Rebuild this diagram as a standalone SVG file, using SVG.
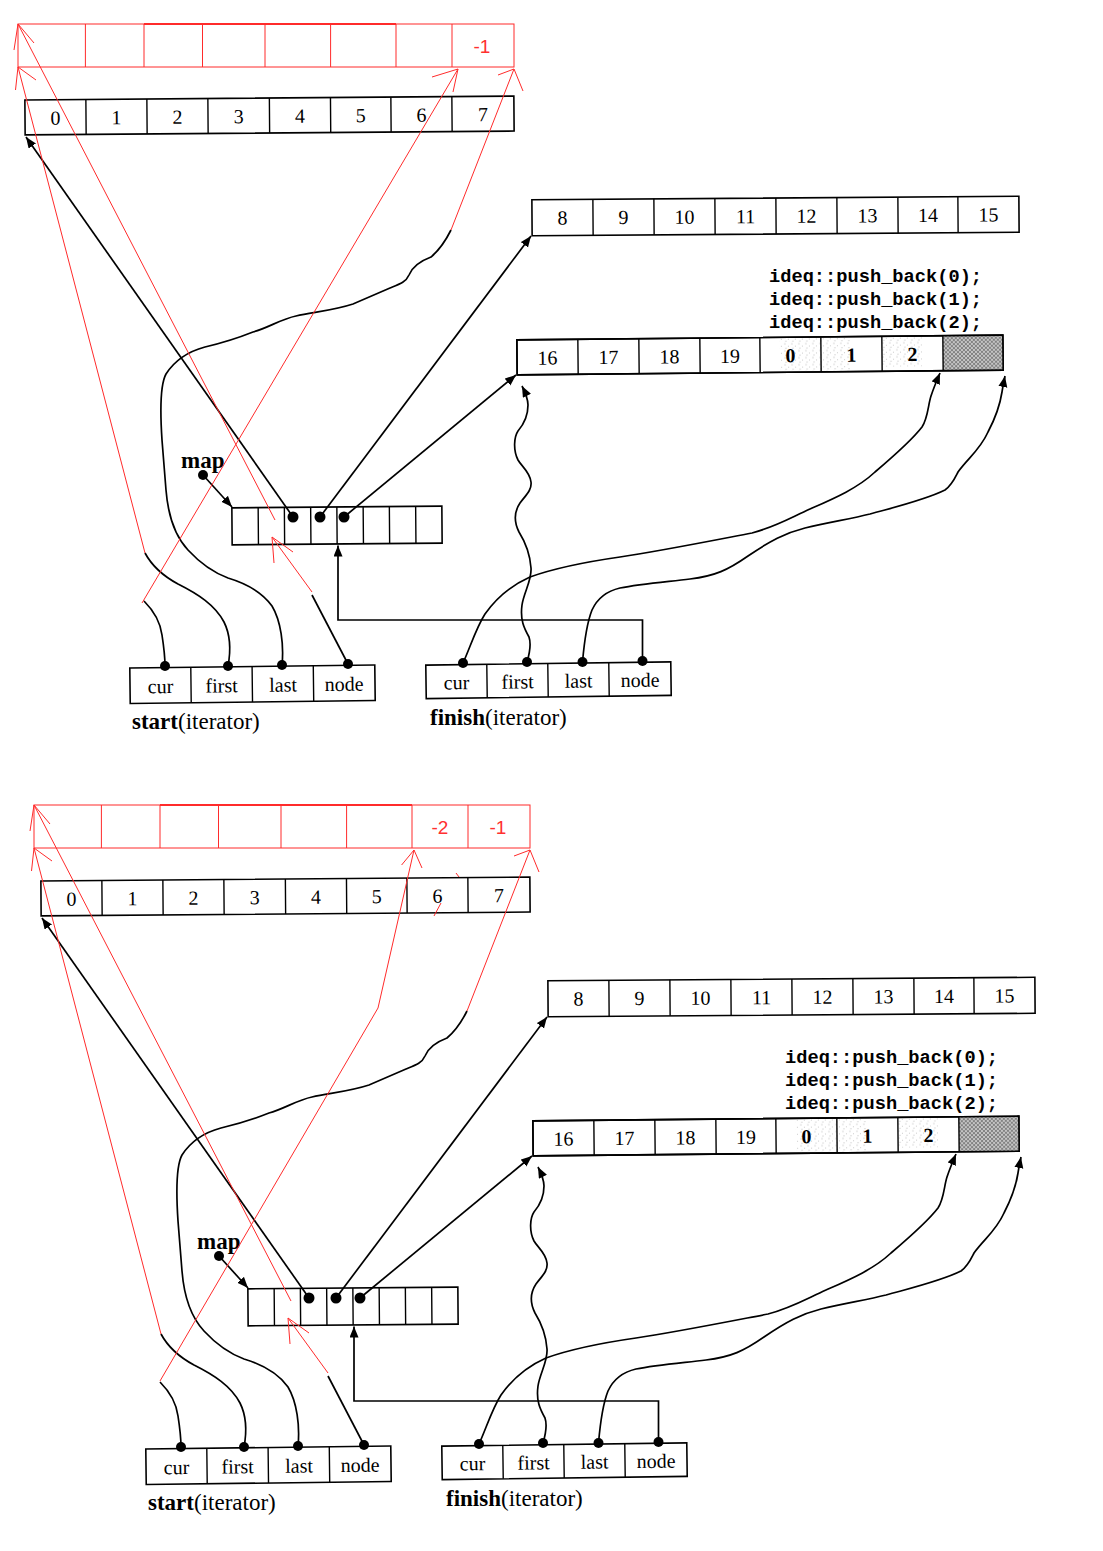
<svg xmlns="http://www.w3.org/2000/svg" width="1103" height="1551" viewBox="0 0 1103 1551">
<style>
.frame{fill:#fff;stroke:#000;stroke-width:1.6}
.div{fill:none;stroke:#000;stroke-width:1.4}
.num{font-family:"Liberation Serif","Times New Roman",serif;font-size:20px;text-anchor:middle;fill:#000}
.numb{font-family:"Liberation Serif","Times New Roman",serif;font-size:20px;text-anchor:middle;fill:#000;font-weight:bold}
.cap{font-family:"Liberation Serif","Times New Roman",serif;font-size:23px;fill:#000}
.code{font-family:"Liberation Mono","DejaVu Sans Mono",monospace;font-size:18.7px;font-weight:bold;fill:#000}
.wire{fill:none;stroke:#000;stroke-width:1.7}
.arr{marker-end:url(#ah)}
.dot{fill:#000}
.red{fill:none;stroke:#ff2b2b;stroke-width:1}
.redthick{fill:none;stroke:#ff2b2b;stroke-width:2}
.redt{font-family:"Liberation Sans",Arial,sans-serif;font-size:19px;fill:#ff3030;text-anchor:middle}
</style>
<defs>
<marker id="ah" markerWidth="12" markerHeight="10" refX="11" refY="4.5" orient="auto" markerUnits="userSpaceOnUse"><path d="M0,0 L11,4.5 L0,9 z" fill="#000"/></marker>
<pattern id="hatch" width="4" height="4" patternUnits="userSpaceOnUse"><rect width="4" height="4" fill="#c4c4c4"/><path d="M0,4 L4,0 M0,0 L4,4" stroke="#666" stroke-width="0.7"/></pattern>
<pattern id="stip" width="7" height="7" patternUnits="userSpaceOnUse"><circle cx="1" cy="1" r="0.6" fill="#aaa"/><circle cx="4.5" cy="3.5" r="0.5" fill="#bbb"/><circle cx="2" cy="5.5" r="0.5" fill="#aaa"/></pattern>
</defs>
<rect width="1103" height="1551" fill="#fff"/>

<!-- ================= DIAGRAM A ================= -->
<g id="diagramA">
<g id="a-block0" transform="rotate(-0.45 269.5 115.5)">
<rect class="frame" x="25" y="98" width="489" height="35"/>
<path class="div" d="M86 98V133M147 98V133M208 98V133M269.5 98V133M330.6 98V133M391 98V133M452 98V133"/>
<text class="num" x="55.5" y="123">0</text><text class="num" x="116.5" y="123">1</text><text class="num" x="177.5" y="123">2</text><text class="num" x="238.8" y="123">3</text><text class="num" x="300" y="123">4</text><text class="num" x="360.8" y="123">5</text><text class="num" x="421.5" y="123">6</text><text class="num" x="483" y="123">7</text>
</g>
<g id="a-block8" transform="rotate(-0.4 775.5 216)">
<rect class="frame" x="532" y="198" width="487" height="36"/>
<path class="div" d="M593 198V234M654 198V234M715 198V234M776 198V234M837 198V234M898 198V234M958 198V234"/>
<text class="num" x="562.5" y="223">8</text><text class="num" x="623.5" y="223">9</text><text class="num" x="684.5" y="223">10</text><text class="num" x="745.5" y="223">11</text><text class="num" x="806.5" y="223">12</text><text class="num" x="867.5" y="223">13</text><text class="num" x="928" y="223">14</text><text class="num" x="988.5" y="223">15</text>
</g>
<g id="a-code">
<text class="code" x="769" y="282">ideq::push_back(0);</text>
<text class="code" x="769" y="305">ideq::push_back(1);</text>
<text class="code" x="769" y="328">ideq::push_back(2);</text>
</g>
<g id="a-block16" transform="rotate(-0.55 760 355)">
<rect class="frame" x="517" y="337.5" width="486" height="35"/>
<rect x="780" y="338" width="70" height="34" fill="url(#stip)"/>
<rect x="882" y="338" width="40" height="30" fill="url(#stip)"/>
<rect x="943" y="337.5" width="60" height="35" fill="url(#hatch)"/>
<rect x="517" y="337.5" width="486" height="35" fill="none" stroke="#000" stroke-width="1.6"/>
<path class="div" d="M578 337.5V372.5M639 337.5V372.5M700 337.5V372.5M760 337.5V372.5M821 337.5V372.5M882 337.5V372.5M943 337.5V372.5"/>
<text class="num" x="547.5" y="362.5">16</text><text class="num" x="608.5" y="362.5">17</text><text class="num" x="669.5" y="362.5">18</text><text class="num" x="730" y="362.5">19</text><text class="numb" x="790.5" y="362.5">0</text><text class="numb" x="851.5" y="362.5">1</text><text class="numb" x="912.5" y="362.5">2</text>
</g>
<g id="a-map">
<text class="cap" x="181" y="468" font-weight="bold" font-size="22">map</text>
<g transform="rotate(-0.46 337 525.5)">
<rect class="frame" x="232" y="507" width="210" height="37"/>
<path class="div" d="M258.3 507V544M284.5 507V544M310.8 507V544M337 507V544M363.3 507V544M389.5 507V544M415.8 507V544"/>
</g>
</g>
<g id="a-start">
<g transform="rotate(-0.7 252.5 684)">
<rect class="frame" x="130" y="666.5" width="245" height="35.5"/>
<path class="div" d="M191 666.5V702M252.3 666.5V702M313.5 666.5V702"/>
<text class="num" x="160.5" y="692">cur</text><text class="num" x="221.6" y="692">first</text><text class="num" x="283" y="692">last</text><text class="num" x="344" y="692">node</text>
</g>
<text class="cap" x="132" y="729"><tspan font-weight="bold">start</tspan>(iterator)</text>
</g>
<g id="a-finish">
<g transform="rotate(-0.77 548.5 680)">
<rect class="frame" x="426" y="663.5" width="245" height="33.5"/>
<path class="div" d="M487 663.5V697M548 663.5V697M609 663.5V697"/>
<text class="num" x="456.5" y="688">cur</text><text class="num" x="517.5" y="688">first</text><text class="num" x="578.5" y="688">last</text><text class="num" x="640" y="688">node</text>
</g>
<text class="cap" x="430" y="725"><tspan font-weight="bold">finish</tspan>(iterator)</text>
</g>

<g id="a-connectors">
<circle class="dot" cx="203" cy="475" r="5"/>
<path class="wire arr" d="M203 475L232 507"/>
<circle class="dot" cx="293" cy="517" r="5.5"/><circle class="dot" cx="320" cy="517" r="5.5"/><circle class="dot" cx="344" cy="517" r="5.5"/>
<path class="wire arr" d="M293 517L26 137"/>
<path class="wire arr" d="M320 517L531 236"/>
<path class="wire arr" d="M344 517L516 375"/>
<circle class="dot" cx="165" cy="666" r="5"/><circle class="dot" cx="228" cy="666" r="5"/><circle class="dot" cx="282" cy="665" r="5"/><circle class="dot" cx="348" cy="664" r="5"/>
<path class="wire" d="M144 601C152 609 160 620 162 635C164 648 165 658 165 666"/>
<path class="wire" d="M145 553C152 566 165 577 178 584C198 594 215 605 224 622C231 636 231 650 228 666"/>
<path class="wire" d="M451 230C445 242 437 252 431 257C423 260 413 265 409 275C406 282 400 284 390 288L353 304C335 310 315 312 296 316C281 319 268 328 253 332C238 338 222 343 205 347C190 351 175 360 166 374C160 385 160 410 162 440L166 490C168 515 174 535 188 550C200 563 212 572 228 578C248 584 262 592 272 606C281 621 284 645 282 665"/>
<path class="wire" d="M348 664L312 595"/>
<circle class="dot" cx="463" cy="663" r="5"/><circle class="dot" cx="527" cy="662" r="5"/><circle class="dot" cx="582.5" cy="662" r="5"/><circle class="dot" cx="642.5" cy="661" r="5"/>
<path class="wire arr" d="M642.5 661V620H338V545.5"/>
<path class="wire arr" d="M527 662C530 652 531 643 529 637C524 628 520 620 522 605C524 592 532 580 531 568C530 553 524 540 519 532C514 522 514 512 520 503C526 495 532 490 531 482C530 472 522 467 518 460C513 450 514 437 518 431C524 424 528 415 528 405C528 398 525 392 522 386"/>
<path class="wire arr" d="M463 663C470 648 476 628 485 614C497 597 512 585 530 577C555 568 585 562 620 557C660 551 700 543 752 533C775 527 790 518 810 509C835 498 858 488 875 472C895 455 912 440 922 427C928 418 928 405 931 396C934 387 937 380 940 373"/>
<path class="wire arr" d="M582.5 662C584 645 586 625 592 610C598 597 607 591 620 588C640 584 665 582 690 579C715 576 728 570 748 556C770 541 785 533 805 528C830 522 850 519 870 514C895 507 925 500 945 490C952 485 955 478 958 472C968 458 980 450 988 432C997 415 1000 405 1002 392C1003 385 1004 381 1005 376"/>
</g>

<g id="a-red">
<rect class="red" x="18" y="24" width="496" height="43"/>
<path class="red" d="M85.4 24V67M144 24V67M202.5 24V67M265 24V67M330.6 24V67M396 24V67M452 24V67"/>
<path class="redthick" d="M144 24H396"/>
<text class="redt" x="482" y="53">-1</text>
<polyline class="red" points="14,50 18,24 34,43"/>
<polyline class="red" points="15.5,90 18,67 36,80"/>
<polyline class="red" points="432,77 458,69 453,92"/>
<polyline class="red" points="498,75 514,69 523,91"/>
<polyline class="red" points="293,552 272,537 274,563"/>
<path class="red" d="M458 69L142 603"/>
<path class="red" d="M18 67L145 553"/>
<path class="red" d="M18 24L275 520"/>
<path class="red" d="M272 537L312 592"/>
<path class="red" d="M514 69L451 230"/>
</g>
</g>

<!-- ================= DIAGRAM B ================= -->
<g id="diagramB" transform="translate(16,781)">
<g id="b-block0" transform="rotate(-0.45 269.5 115.5)">
<rect class="frame" x="25" y="98" width="489" height="35"/>
<path class="div" d="M86 98V133M147 98V133M208 98V133M269.5 98V133M330.6 98V133M391 98V133M452 98V133"/>
<text class="num" x="55.5" y="123">0</text><text class="num" x="116.5" y="123">1</text><text class="num" x="177.5" y="123">2</text><text class="num" x="238.8" y="123">3</text><text class="num" x="300" y="123">4</text><text class="num" x="360.8" y="123">5</text><text class="num" x="421.5" y="123">6</text><text class="num" x="483" y="123">7</text>
</g>
<g id="b-block8" transform="rotate(-0.4 775.5 216)">
<rect class="frame" x="532" y="198" width="487" height="36"/>
<path class="div" d="M593 198V234M654 198V234M715 198V234M776 198V234M837 198V234M898 198V234M958 198V234"/>
<text class="num" x="562.5" y="223">8</text><text class="num" x="623.5" y="223">9</text><text class="num" x="684.5" y="223">10</text><text class="num" x="745.5" y="223">11</text><text class="num" x="806.5" y="223">12</text><text class="num" x="867.5" y="223">13</text><text class="num" x="928" y="223">14</text><text class="num" x="988.5" y="223">15</text>
</g>
<g id="b-code">
<text class="code" x="769" y="282">ideq::push_back(0);</text>
<text class="code" x="769" y="305">ideq::push_back(1);</text>
<text class="code" x="769" y="328">ideq::push_back(2);</text>
</g>
<g id="b-block16" transform="rotate(-0.55 760 355)">
<rect class="frame" x="517" y="337.5" width="486" height="35"/>
<rect x="780" y="338" width="70" height="34" fill="url(#stip)"/>
<rect x="882" y="338" width="40" height="30" fill="url(#stip)"/>
<rect x="943" y="337.5" width="60" height="35" fill="url(#hatch)"/>
<rect x="517" y="337.5" width="486" height="35" fill="none" stroke="#000" stroke-width="1.6"/>
<path class="div" d="M578 337.5V372.5M639 337.5V372.5M700 337.5V372.5M760 337.5V372.5M821 337.5V372.5M882 337.5V372.5M943 337.5V372.5"/>
<text class="num" x="547.5" y="362.5">16</text><text class="num" x="608.5" y="362.5">17</text><text class="num" x="669.5" y="362.5">18</text><text class="num" x="730" y="362.5">19</text><text class="numb" x="790.5" y="362.5">0</text><text class="numb" x="851.5" y="362.5">1</text><text class="numb" x="912.5" y="362.5">2</text>
</g>
<g id="b-map">
<text class="cap" x="181" y="468" font-weight="bold" font-size="22">map</text>
<g transform="rotate(-0.46 337 525.5)">
<rect class="frame" x="232" y="507" width="210" height="37"/>
<path class="div" d="M258.3 507V544M284.5 507V544M310.8 507V544M337 507V544M363.3 507V544M389.5 507V544M415.8 507V544"/>
</g>
</g>
<g id="b-start">
<g transform="rotate(-0.7 252.5 684)">
<rect class="frame" x="130" y="666.5" width="245" height="35.5"/>
<path class="div" d="M191 666.5V702M252.3 666.5V702M313.5 666.5V702"/>
<text class="num" x="160.5" y="692">cur</text><text class="num" x="221.6" y="692">first</text><text class="num" x="283" y="692">last</text><text class="num" x="344" y="692">node</text>
</g>
<text class="cap" x="132" y="729"><tspan font-weight="bold">start</tspan>(iterator)</text>
</g>
<g id="b-finish">
<g transform="rotate(-0.77 548.5 680)">
<rect class="frame" x="426" y="663.5" width="245" height="33.5"/>
<path class="div" d="M487 663.5V697M548 663.5V697M609 663.5V697"/>
<text class="num" x="456.5" y="688">cur</text><text class="num" x="517.5" y="688">first</text><text class="num" x="578.5" y="688">last</text><text class="num" x="640" y="688">node</text>
</g>
<text class="cap" x="430" y="725"><tspan font-weight="bold">finish</tspan>(iterator)</text>
</g>

<g id="b-connectors">
<circle class="dot" cx="203" cy="475" r="5"/>
<path class="wire arr" d="M203 475L232 507"/>
<circle class="dot" cx="293" cy="517" r="5.5"/><circle class="dot" cx="320" cy="517" r="5.5"/><circle class="dot" cx="344" cy="517" r="5.5"/>
<path class="wire arr" d="M293 517L26 137"/>
<path class="wire arr" d="M320 517L531 236"/>
<path class="wire arr" d="M344 517L516 375"/>
<circle class="dot" cx="165" cy="666" r="5"/><circle class="dot" cx="228" cy="666" r="5"/><circle class="dot" cx="282" cy="665" r="5"/><circle class="dot" cx="348" cy="664" r="5"/>
<path class="wire" d="M144 601C152 609 160 620 162 635C164 648 165 658 165 666"/>
<path class="wire" d="M145 553C152 566 165 577 178 584C198 594 215 605 224 622C231 636 231 650 228 666"/>
<path class="wire" d="M451 230C445 242 437 252 431 257C423 260 413 265 409 275C406 282 400 284 390 288L353 304C335 310 315 312 296 316C281 319 268 328 253 332C238 338 222 343 205 347C190 351 175 360 166 374C160 385 160 410 162 440L166 490C168 515 174 535 188 550C200 563 212 572 228 578C248 584 262 592 272 606C281 621 284 645 282 665"/>
<path class="wire" d="M348 664L312 595"/>
<circle class="dot" cx="463" cy="663" r="5"/><circle class="dot" cx="527" cy="662" r="5"/><circle class="dot" cx="582.5" cy="662" r="5"/><circle class="dot" cx="642.5" cy="661" r="5"/>
<path class="wire arr" d="M642.5 661V620H338V545.5"/>
<path class="wire arr" d="M527 662C530 652 531 643 529 637C524 628 520 620 522 605C524 592 532 580 531 568C530 553 524 540 519 532C514 522 514 512 520 503C526 495 532 490 531 482C530 472 522 467 518 460C513 450 514 437 518 431C524 424 528 415 528 405C528 398 525 392 522 386"/>
<path class="wire arr" d="M463 663C470 648 476 628 485 614C497 597 512 585 530 577C555 568 585 562 620 557C660 551 700 543 752 533C775 527 790 518 810 509C835 498 858 488 875 472C895 455 912 440 922 427C928 418 928 405 931 396C934 387 937 380 940 373"/>
<path class="wire arr" d="M582.5 662C584 645 586 625 592 610C598 597 607 591 620 588C640 584 665 582 690 579C715 576 728 570 748 556C770 541 785 533 805 528C830 522 850 519 870 514C895 507 925 500 945 490C952 485 955 478 958 472C968 458 980 450 988 432C997 415 1000 405 1002 392C1003 385 1004 381 1005 376"/>
</g>

<g id="b-red">
<rect class="red" x="18" y="24" width="496" height="43"/>
<path class="red" d="M85.4 24V67M144 24V67M202.5 24V67M265 24V67M330.6 24V67M396 24V67M452 24V67"/>
<path class="redthick" d="M144 24H396"/>
<text class="redt" x="424" y="53">-2</text>
<text class="redt" x="482" y="53">-1</text>
<polyline class="red" points="14,50 18,24 34,43"/>
<polyline class="red" points="15.5,90 18,67 36,80"/>
<polyline class="red" points="385.6,84 398,69 406,87"/>
<polyline class="red" points="498,75 514,69 523,91"/>
<polyline class="red" points="293,552 272,537 274,563"/>
<polyline class="red" points="398,69 362,227 144,600"/>
<path class="red" d="M18 67L145 553"/>
<path class="red" d="M18 24L275 520"/>
<path class="red" d="M272 537L312 592"/>
<path class="red" d="M514 69L451 230"/>
<path class="red" d="M425 122L418 135M440 92L443 96"/>
</g>
</g>
</svg>
